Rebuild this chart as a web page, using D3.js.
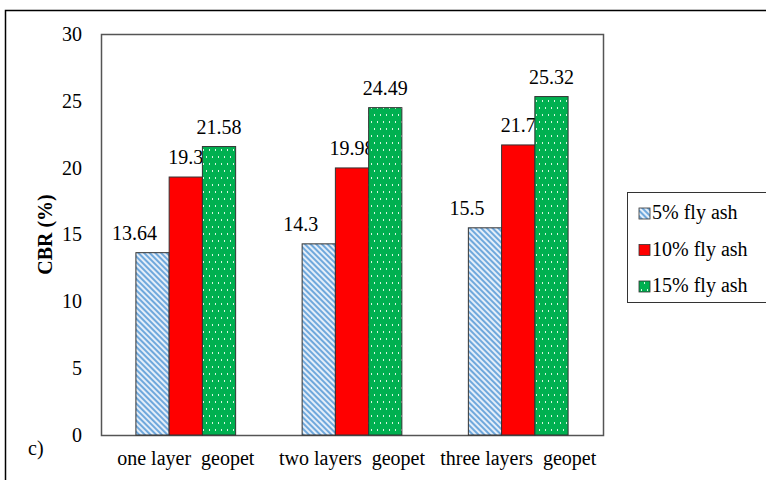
<!DOCTYPE html>
<html><head><meta charset="utf-8">
<script src="https://cdn.jsdelivr.net/npm/d3@7"></script>
</head><body style="margin:0"><svg id="c" width="766" height="480" font-family="Liberation Serif" style="display:block"></svg>
<script>
const categories = ["one layer  geopet", "two layers  geopet", "three layers  geopet"];
const seriesNames = ["5% fly ash", "10% fly ash", "15% fly ash"];
const fiveFlyAsh = [13.64, 14.3, 15.5];
const tenFlyAsh = [19.3, 19.98, 21.7];
const fifteenFlyAsh = [21.58, 24.49, 25.32];
const yTicks = [0, 5, 10, 15, 20, 25, 30];

const seriesValues = [fiveFlyAsh, tenFlyAsh, fifteenFlyAsh];
const FONT = "Liberation Serif";
const svg = d3.select("#c");
const defs = svg.append("defs");
// blue diagonal stripes
const pb = defs.append("pattern").attr("id","pBlue").attr("patternUnits","userSpaceOnUse")
  .attr("width",4).attr("height",4).attr("patternTransform","rotate(45)");
pb.append("rect").attr("width",4).attr("height",4).attr("fill","#e4eef9");
pb.append("rect").attr("width",4).attr("height",2).attr("fill","#6fa8dc");
// green dots
const pg = defs.append("pattern").attr("id","pGreen").attr("patternUnits","userSpaceOnUse")
  .attr("width",12).attr("height",14);
pg.append("rect").attr("width",12).attr("height",14).attr("fill","#00b050");
[[2,2],[8,2],[5,9],[11,9]].forEach(([a,b]) =>
  pg.append("rect").attr("x",a).attr("y",b).attr("width",1).attr("height",2).attr("fill","#d8f5e0"));
const fills = ["url(#pBlue)", "#ff0000", "url(#pGreen)"];

function txt(sel, size, weight) {
  return sel.attr("font-family", FONT).style("font-family", FONT)
    .attr("font-size", size).style("font-size", size + "px")
    .attr("font-weight", weight || "normal").attr("fill", "#000");
}

// outer frame
svg.append("path").attr("d","M5.5,480 V10.5 H766").attr("fill","none").attr("stroke","#000").attr("stroke-width",1.5);

const m = {l:101, t:34, r:603, b:435};
const x0 = d3.scaleBand().domain(categories).range([m.l, m.r]).paddingInner(0.4).paddingOuter(0.21);
const x1 = d3.scaleBand().domain(d3.range(3)).range([0, x0.bandwidth()]);
const y = d3.scaleLinear().domain([0,30]).range([m.b, m.t]);

// plot frame
svg.append("rect").attr("x",m.l+0.5).attr("y",m.t+0.5).attr("width",m.r-m.l).attr("height",m.b-m.t)
  .attr("fill","none").attr("stroke","#555").attr("stroke-width",1.5);

// y axis
const yAxis = d3.axisLeft(y).tickValues(yTicks).tickSize(0).tickPadding(19);
const ga = svg.append("g").attr("transform",`translate(${m.l},0)`).call(yAxis);
txt(ga, 20);
ga.select(".domain").remove();
txt(ga.selectAll("text"), 20);

// x axis labels
const xAxis = d3.axisBottom(x0).tickSize(0).tickPadding(16);
const gx = svg.append("g").attr("transform",`translate(0,${m.b})`).call(xAxis);
txt(gx, 20);
gx.select(".domain").remove();
txt(gx.selectAll("text"), 20).style("white-space","pre");

// bars
categories.forEach((c, ci) => {
  seriesValues.forEach((vals, si) => {
    const v = vals[ci];
    const bx = x0(c) + x1(si);
    svg.append("rect").attr("x",bx).attr("y",y(v)).attr("width",x1.bandwidth()).attr("height",y(0)-y(v))
      .attr("fill",fills[si]).attr("stroke","#333").attr("stroke-width",1);
    txt(svg.append("text"), 20).attr("x", bx + x1.bandwidth()/2 + (si===0 ? -18 : 0)).attr("y", y(v) - 13)
      .attr("text-anchor","middle").text(v);
  });
});

// y label
txt(svg.append("text"), 20, "bold").attr("transform",`translate(52,${(m.t+m.b)/2}) rotate(-90)`).attr("text-anchor","middle")
  .text("CBR (%)");

txt(svg.append("text"), 20).attr("x",28).attr("y",455).text("c)");

// legend
const lg = svg.append("g");
lg.append("rect").attr("x",627.5).attr("y",192.5).attr("width",140).attr("height",110).attr("fill","#fff").attr("stroke","#333").attr("stroke-width",1);
seriesNames.forEach((n,i) => {
  const yy = 219 + i*36.5;
  lg.append("rect").attr("x",639).attr("y",yy-11).attr("width",11).attr("height",11).attr("fill",fills[i]).attr("stroke","#333").attr("stroke-width",0.8);
  txt(lg.append("text"), 20).attr("x",652).attr("y",yy).text(n);
});
</script></body></html>
